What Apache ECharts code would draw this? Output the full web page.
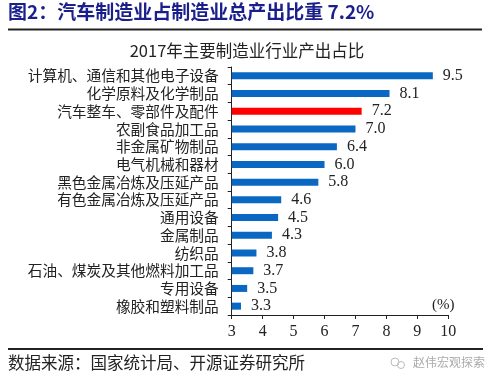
<!DOCTYPE html>
<html><head><meta charset="utf-8">
<script src="https://cdn.jsdelivr.net/npm/echarts@6/dist/echarts.min.js"></script>
<style>html,body{margin:0;padding:0;background:#fff;}#c{width:500px;height:385px;}</style>
</head><body><div id="c"></div>
<script>
var categories = ['计算机、通信和其他电子设备','化学原料及化学制品','汽车整车、零部件及配件','农副食品加工品','非金属矿物制品','电气机械和器材','黑色金属冶炼及压延产品','有色金属冶炼及压延产品','通用设备','金属制品','纺织品','石油、煤炭及其他燃料加工品','专用设备','橡胶和塑料制品'];
var values = [9.5, 8.1, 7.2, 7.0, 6.4, 6.0, 5.8, 4.6, 4.5, 4.3, 3.8, 3.7, 3.5, 3.3];
var highlight = '汽车整车、零部件及配件';
var xTicks = [3, 4, 5, 6, 7, 8, 9, 10];

var chart = echarts.init(document.getElementById('c'));
var cjk = '"Noto Sans CJK SC", sans-serif';
var serif = '"Liberation Serif", "DejaVu Serif", serif';
chart.setOption({
  animation: false,
  title: {
    text: '2017年主要制造业行业产出占比',
    left: 242, top: 37, textAlign: 'center',
    textStyle: {fontFamily: cjk, fontSize: 16.5, fontWeight: 'normal', color: '#222'}
  },
  grid: {left: 231.7, right: 51.7, top: 67, bottom: 70, containLabel: false},
  xAxis: {
    type: 'value', min: xTicks[0], max: xTicks[xTicks.length - 1], interval: 1,
    axisLine: {show: true, lineStyle: {color: '#222', width: 1}},
    axisTick: {show: true, length: 4, lineStyle: {color: '#222'}},
    splitLine: {show: false},
    axisLabel: {fontFamily: serif, fontSize: 16, color: '#222', margin: 9}
  },
  yAxis: {
    type: 'category', data: categories, inverse: true,
    axisLine: {show: true, lineStyle: {color: '#222', width: 1}},
    axisTick: {show: true, length: 4, interval: 0, lineStyle: {color: '#222'}},
    axisLabel: {interval: 0, fontFamily: cjk, fontSize: 14.7, color: '#222', margin: 13}
  },
  series: [{
    type: 'bar', barWidth: 7,
    data: values.map(function (v, i) {
      return {value: v, itemStyle: {color: categories[i] === highlight ? '#ff0000' : '#0b68c2'}};
    }),
    label: {show: true, position: 'right', distance: 10, fontFamily: serif, fontSize: 16, color: '#222',
      formatter: function (p) { return p.value.toFixed(1); }}
  }],
  graphic: [
    {type: 'text', left: 8, top: 2, style: {text: '图2：汽车制造业占制造业总产出比重 7.2%', fontFamily: cjk, fontSize: 19, fontWeight: 'bold', fill: '#1a1f8c'}},
    {type: 'line', shape: {x1: 8, y1: 29.5, x2: 482, y2: 29.5}, style: {stroke: '#222', lineWidth: 2}},
    {type: 'text', left: 432, top: 298, style: {text: '(%)', fontFamily: serif, fontSize: 15, fill: '#222'}},
    {type: 'line', shape: {x1: 8, y1: 349, x2: 483, y2: 349}, style: {stroke: '#222', lineWidth: 2}},
    {type: 'text', left: 8, top: 354, style: {text: '数据来源：国家统计局、开源证券研究所', fontFamily: cjk, fontSize: 16.5, fill: '#222'}},
    {type: 'circle', shape: {cx: 395, cy: 362, r: 4}, style: {fill: 'none', stroke: '#bbb', lineWidth: 1}},
    {type: 'circle', shape: {cx: 401, cy: 365, r: 3.5}, style: {fill: 'none', stroke: '#bbb', lineWidth: 1}},
    {type: 'text', left: 413, top: 356, style: {text: '赵伟宏观探索', fontFamily: cjk, fontSize: 12, fill: '#aaa'}}
  ]
});
</script></body></html>
